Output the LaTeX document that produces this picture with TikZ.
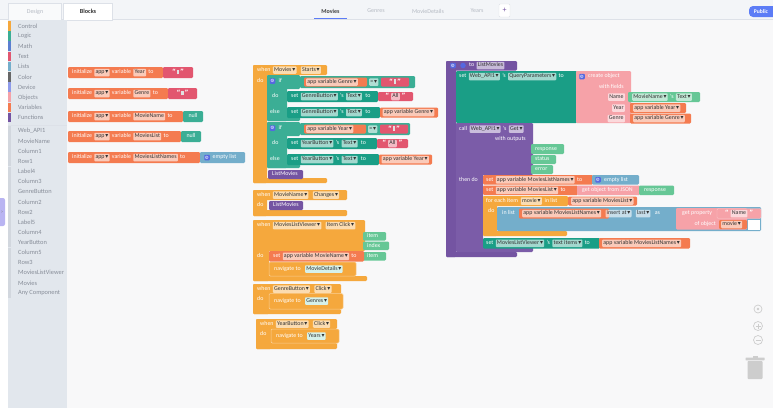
\documentclass[tikz,border=0pt]{standalone}
\usepackage{fontspec}
\setmainfont{Carlito}
\newfontfamily\symf{DejaVu Sans}
\usetikzlibrary{positioning}
\definecolor{cCtl}{HTML}{F5A83D}
\definecolor{cLog}{HTML}{3BAE95}
\definecolor{cMath}{HTML}{5B7FD0}
\definecolor{cTxt}{HTML}{E2566F}
\definecolor{cLst}{HTML}{74AECB}
\definecolor{cClr}{HTML}{666666}
\definecolor{cDev}{HTML}{8E9BEA}
\definecolor{cObj}{HTML}{F6A2A8}
\definecolor{cVar}{HTML}{F47B50}
\definecolor{cFun}{HTML}{7454A2}
\definecolor{cCall}{HTML}{7B5CA8}
\definecolor{cCmp}{HTML}{1A9E86}
\definecolor{cPar}{HTML}{66C796}
\definecolor{cNav}{HTML}{D6F1EA}
\definecolor{cGear}{HTML}{5568E0}
\definecolor{cSide}{HTML}{E2E7ED}
\definecolor{cSideTxt}{HTML}{878D98}
\definecolor{cStrip}{HTML}{D2D7DE}
\definecolor{cCanvas}{HTML}{F8F8F9}
\definecolor{cBar}{HTML}{F3F5F8}
\definecolor{cLine}{HTML}{DDE1E8}
\definecolor{cTab}{HTML}{5C7CF6}
\definecolor{cTabTxt}{HTML}{B5BAC3}
\definecolor{cCtrl}{HTML}{CDCDCD}
\definecolor{cHandle}{HTML}{B9B4F2}
\newcommand\fs{\fontsize{5.9}{6.5}\selectfont}
\newcommand\dd{\kern0.8pt{\symf ▾}}
\newcommand\qopen{{\symf\bfseries “}}
\newcommand\qclose{{\symf\bfseries ”}}
\newcommand\qq{\qopen\kern0.8pt{\color{white!88!black}\rule[-0.4pt]{2.4pt}{4.4pt}}\kern0.8pt\qclose}
\begin{document}
\begin{tikzpicture}[x=1pt,y=-1pt,
  blk/.style={rounded corners=1.2pt},
  lbl/.style={inner sep=0pt,text=white,font=\fs,anchor=west,text height=4pt,text depth=1.1pt},
  fld/.style={lbl,inner xsep=1.2pt,inner ysep=1.2pt,fill=white,fill opacity=0.6,text opacity=1,text=black!80,rounded corners=0.8pt},
  nfld/.style={fld,fill=cNav,fill opacity=1},
  gear/.style={fill=cGear,rounded corners=0.8pt,minimum size=5.5pt,inner sep=0pt,text=white,font=\symf\fontsize{4.5}{4.5}\selectfont},
  side/.style={inner sep=0pt,anchor=west,text=cSideTxt,font=\fontsize{6.4}{7}\selectfont},
  tab/.style={inner sep=0pt,font=\fontsize{6}{7}\selectfont,text=cTabTxt}]
\useasboundingbox (0,0) rectangle (773,408);
% page, top bar and side bar
\fill[white] (0,0) rectangle (773,408);
\fill[cCanvas] (67,20) rectangle (773,408);
\fill[cBar] (0,0) rectangle (773,20);
\draw[cLine] (0,19.5) -- (773,19.5);
\fill[cBar!50!white,draw=cLine,line width=0.4pt] (8,3.5) rectangle (61,20);
\fill[white,draw=cLine,line width=0.4pt] (63,3.5) rectangle (112,20);
\node[tab] (tdesign) at (35,11.5) {Design};
\node[tab,text=black!80,font=\fontsize{6.2}{7}\selectfont\bfseries] (tblocks) at (88,11.5) {Blocks};
\node[tab,text=black!75,font=\fontsize{6}{7}\selectfont\bfseries] (pmovies) at (330.5,11) {Movies};
\draw[cTab,line width=0.9pt] (314,18.5) -- (347,18.5);
\node[tab] (pgenres) at (376,11) {Genres};
\node[tab] (pdetails) at (428,11) {MovieDetails};
\node[tab] (pyears) at (477,11) {Years};
\draw[cLine,fill=white,rounded corners=1pt] (499,4) rectangle (510,17);
\node[tab,text=cFun,font=\fontsize{8}{8}\selectfont] (pplus) at (504.5,10.5) {+};
\fill[cTab,rounded corners=4pt] (749,6) rectangle (779,17);
\node[tab,text=white,font=\fontsize{5.6}{6}\selectfont\bfseries] (ppublic) at (761,11.5) {Public};
\fill[cSide] (8,20) rectangle (67,408);
\foreach \n/\c [count=\i] in {Control/cCtl,Logic/cLog,Math/cMath,Text/cTxt,Lists/cLst,Color/cClr,Device/cDev,Objects/cObj,Variables/cVar,Functions/cFun}{
  \fill[\c] (8,{21+(\i-1)*10.2}) rectangle (10.5,{30.6+(\i-1)*10.2});
  \node[side] (cat\i) at (18,{26+(\i-1)*10.2}) {\n};
}
\draw[cLine,line width=0.6pt] (8,125.5) -- (67,125.5);
\foreach \n [count=\i] in {Web\_API1,MovieName,Column1,Row1,Label4,Column3,GenreButton,Column2,Row2,Label5,Column4,YearButton,Column5,Row3,MoviesListViewer,Movies,Any Component}{
  \fill[cStrip] (8,{126+(\i-1)*10.125}) rectangle (10.5,{136+(\i-1)*10.125});
  \node[side] (cmp\i) at (18,{131+(\i-1)*10.125}) {\n};
}
\fill[cHandle,rounded corners=2pt] (-3,198) rectangle (5,226);
\node[tab,text=black!50,font=\symf\fontsize{5}{5}\selectfont] (hnd) at (2,212) {›};
% initialize blocks
\foreach \y/\nm/\e [count=\i] in {72.5/Year/163,93.5/Genre/168,116.5/MovieName/183,136.5/MoviesList/181,157.5/MoviesListNames/200}{
  \fill[cVar,blk] (68,\y-5.5) rectangle (\e,\y+5.5);
  \node[lbl] (v\i-a) at (72,\y) {initialize};
  \node[fld,right=2pt of v\i-a] (v\i-b) {app\dd};
  \node[lbl,right=2pt of v\i-b] (v\i-c) {variable};
  \node[fld,right=2pt of v\i-c] (v\i-d) {\nm};
  \node[lbl,right=2pt of v\i-d] (v\i-e) {to};
}
\fill[cTxt,blk] (163,67) rectangle (193,78);
\node[lbl,anchor=center] (v1-f) at (178,72.5) {\qq};
\fill[cTxt,blk] (168,88) rectangle (197,99);
\node[lbl,anchor=center] (v2-f) at (182.5,93.5) {\qq};
\fill[cLog,blk] (183,111) rectangle (203,122);
\node[lbl,anchor=center] (v3-f) at (193,116.5) {null};
\fill[cLog,blk] (181,131) rectangle (201,142);
\node[lbl,anchor=center] (v4-f) at (191,136.5) {null};
\fill[cLst,blk] (200,152) rectangle (245,163);
\node[gear] (v5-g) at (207,157.5) {⚙};
\node[lbl,right=2.5pt of v5-g] (v5-f) {empty list};
% when Movies Starts
\fill[cCtl,blk] (253,65) rectangle (327,75);
\fill[cCtl,blk] (253,65) rectangle (267,183);
\fill[cCtl,blk] (253,178) rectangle (327,183);
\node[lbl] (a1) at (257,70) {when};
\node[fld,right=2pt of a1] (a2) {Movies\dd};
\node[fld,right=4pt of a2] (a3) {Starts\dd};
\node[lbl] (a4) at (257,81) {do};
\foreach \d/\nm/\btn/\cx/\sx/\ex/\ox in {0/Genre/GenreButton/415/381/413/438,47/Year/YearButton/410/380/408/432}{
  \fill[cLog,blk] (267,75+\d) rectangle (300,89+\d);
  \fill[cLog,blk] (267,75+\d) rectangle (287,121+\d);
  \fill[cLog,blk] (267,117+\d) rectangle (300,121+\d);
  \node[gear] (if\nm-g) at (272.5,81+\d) {⚙};
  \node[lbl,right=3pt of if\nm-g] (if\nm-a) {if};
  \node[lbl] (if\nm-do) at (272,96.5+\d) {do};
  \node[lbl] (if\nm-el) at (270,112.5+\d) {else};
  \fill[cLog,blk] (300,76+\d) rectangle (\cx,88+\d);
  \fill[cVar,blk] (304,77.5+\d) rectangle (\sx-14,86.5+\d);
  \node[fld] (if\nm-v) at (306,82+\d) {app variable \nm\dd};
  \node[fld] (if\nm-q) at (\sx-12,82+\d) {=\dd};
  \fill[cTxt,blk] (\sx,77.5+\d) rectangle (\sx+28,86.5+\d);
  \node[lbl,anchor=center] (if\nm-s) at (\sx+14,82+\d) {\qq};
  \fill[cCmp,blk] (287,91+\d) rectangle (\sx-3,102+\d);
  \node[lbl] (st\nm-a) at (291,96.5+\d) {set};
  \node[fld,right=2pt of st\nm-a] (st\nm-b) {\btn\dd};
  \node[lbl,right=2pt of st\nm-b] (st\nm-c) {'s};
  \node[fld,right=2pt of st\nm-c] (st\nm-d) {Text\dd};
  \node[lbl,right=3pt of st\nm-d] (st\nm-e) {to};
  \fill[cTxt,blk] (\sx-3,92+\d) rectangle (\ex,101+\d);
  \node[fld,anchor=center] (al\nm-b) at ({(\sx-3+\ex)/2},96.5+\d) {All};
  \node[lbl,left=1.5pt of al\nm-b] (al\nm-a) {\qopen};
  \node[lbl,right=1.5pt of al\nm-b] (al\nm-c) {\qclose};
  \fill[cCmp,blk] (287,107+\d) rectangle (\sx-1,118+\d);
  \node[lbl] (se\nm-a) at (291,112.5+\d) {set};
  \node[fld,right=2pt of se\nm-a] (se\nm-b) {\btn\dd};
  \node[lbl,right=2pt of se\nm-b] (se\nm-c) {'s};
  \node[fld,right=2pt of se\nm-c] (se\nm-d) {Text\dd};
  \node[lbl,right=3pt of se\nm-d] (se\nm-e) {to};
  \fill[cVar,blk] (\sx-1,107.5+\d) rectangle (\ox,117.5+\d);
  \node[fld] (se\nm-f) at (\sx+1.5,112.5+\d) {app variable \nm\dd};
}
\fill[cFun,blk] (268,170) rectangle (303,179);
\node[lbl] (lm1) at (272,174.5) {ListMovies};
% when MovieName Changes
\fill[cCtl,blk] (253,190) rectangle (347,200);
\fill[cCtl,blk] (253,190) rectangle (267,216);
\fill[cCtl,blk] (253,210) rectangle (347,216);
\node[lbl] (b1) at (257,195) {when};
\node[fld,right=2pt of b1] (b2) {MovieName\dd};
\node[fld,right=4pt of b2] (b3) {Changes\dd};
\node[lbl] (b4) at (257,205.5) {do};
\fill[cFun,blk] (269,201) rectangle (303,210);
\node[lbl] (lm2) at (273,205.5) {ListMovies};
% when MoviesListViewer Item Click
\fill[cCtl,blk] (253,220) rectangle (365,251);
\fill[cCtl,blk] (253,220) rectangle (269,281);
\fill[cCtl,blk] (253,276) rectangle (367,281);
\node[lbl] (c1) at (257,225.5) {when};
\node[fld,right=2pt of c1] (c2) {MoviesListViewer\dd};
\node[fld,right=4pt of c2] (c3) {Item Click\dd};
\fill[cPar,blk] (363,232) rectangle (386,240.5);
\node[lbl] (c4) at (367,236.25) {item};
\fill[cPar,blk] (363,241.5) rectangle (389,250);
\node[lbl] (c5) at (367,245.75) {index};
\fill[cPar,blk] (363,252) rectangle (386,260.5);
\node[lbl] (c6) at (367,256.25) {item};
\node[lbl] (c7) at (257,256.5) {do};
\fill[cVar,blk] (269,251) rectangle (364,261.5);
\node[lbl] (c8) at (273,256.25) {set};
\node[fld,right=2pt of c8] (c9) {app variable MovieName\dd};
\node[lbl,right=2pt of c9] (c10) {to};
\fill[cCtl,blk,draw=white!45!cCtl,line width=0.5pt] (269,262) rectangle (356,276);
\node[lbl] (c11) at (274,269) {navigate to};
\node[nfld,right=4pt of c11] (c12) {MovieDetails\dd};
% when GenreButton Click
\fill[cCtl,blk] (253,284) rectangle (341,294);
\fill[cCtl,blk] (253,284) rectangle (269,314);
\fill[cCtl,blk] (253,309) rectangle (341,314);
\node[lbl] (d1) at (257,289) {when};
\node[fld,right=2pt of d1] (d2) {GenreButton\dd};
\node[fld,right=4pt of d2] (d3) {Click\dd};
\node[lbl] (d4) at (257,299.5) {do};
\fill[cCtl,blk,draw=white!45!cCtl,line width=0.5pt] (269,293.5) rectangle (343,309);
\node[lbl] (d5) at (274,301) {navigate to};
\node[nfld,right=4pt of d5] (d6) {Genres\dd};
% when YearButton Click
\fill[cCtl,blk] (256,319) rectangle (337,329);
\fill[cCtl,blk] (256,319) rectangle (271,349);
\fill[cCtl,blk] (256,343) rectangle (337,349);
\node[lbl] (e1) at (260,324) {when};
\node[fld,right=2pt of e1] (e2) {YearButton\dd};
\node[fld,right=4pt of e2] (e3) {Click\dd};
\node[lbl] (e4) at (260,334.5) {do};
\fill[cCtl,blk,draw=white!45!cCtl,line width=0.5pt] (271,329) rectangle (339,343);
\node[lbl] (e5) at (276,336) {navigate to};
\node[nfld,right=4pt of e5] (e6) {Years\dd};
% to ListMovies
\fill[cFun,blk] (446,61) rectangle (517,70.5);
\fill[cFun,blk] (446,61) rectangle (456,257);
\fill[cFun,blk] (446,252) rectangle (517,257);
\node[gear] (f1) at (453,65.5) {⚙};
\node[gear,circle] (f2) at (463,65.5) {};
\node[lbl,right=3pt of f2] (f3) {to};
\node[fld,right=2pt of f3] (f4) {ListMovies};
\fill[cCmp,blk] (456,71) rectangle (577,123);
\node[lbl] (q1) at (459,76.5) {set};
\node[fld,right=2pt of q1] (q2) {Web\_API1\dd};
\node[lbl,right=2pt of q2] (q3) {'s};
\node[fld,right=2pt of q3] (q4) {QueryParameters\dd};
\node[lbl,right=2pt of q4] (q5) {to};
\fill[cObj,blk] (576,71) rectangle (631,123);
\node[gear] (o1) at (582,76.5) {⚙};
\node[lbl,right=3pt of o1] (o2) {create object};
\node[lbl,anchor=east] (o3) at (624,87) {with fields};
\node[fld,anchor=east] (o4) at (625,97) {Name};
\node[fld,anchor=east] (o5) at (625,108) {Year};
\node[fld,anchor=east] (o6) at (625,118.5) {Genre};
\fill[cPar,blk] (628,92) rectangle (700,102);
\node[fld] (o7) at (632,97) {MovieName\dd};
\node[lbl,right=2pt of o7] (o8) {'s};
\node[fld,right=2pt of o8] (o9) {Text\dd};
\fill[cVar,blk] (630,103) rectangle (686,113);
\node[fld] (o10) at (633,108) {app variable Year\dd};
\fill[cVar,blk] (630,113.5) rectangle (691,123.5);
\node[fld] (o11) at (633,118.5) {app variable Genre\dd};
% call Web_API1 Get
\fill[cCall,blk] (456,123) rectangle (533,175);
\fill[cCall,blk] (456,123) rectangle (483,252);
\fill[cCall,blk] (456,247) rectangle (533,252);
\node[lbl] (g1) at (459,129) {call};
\node[fld,right=2pt of g1] (g2) {Web\_API1\dd};
\node[lbl,right=2pt of g2] (g3) {'s};
\node[fld,right=2pt of g3] (g4) {Get\dd};
\node[lbl,anchor=east] (g5) at (526,139) {with outputs};
\fill[cPar,blk] (531,144) rectangle (564,154);
\node[lbl] (g6) at (535,149) {response};
\fill[cPar,blk] (531,155) rectangle (556,164);
\node[lbl] (g7) at (535,159.5) {status};
\fill[cPar,blk] (531,165) rectangle (553,174);
\node[lbl] (g8) at (535,169.5) {error};
\node[lbl] (g9) at (459,180) {then do};
\fill[cVar,blk] (483,175) rectangle (593,184.5);
\node[lbl] (h1) at (486,179.75) {set};
\node[fld,right=2pt of h1] (h2) {app variable MoviesListNames\dd};
\node[lbl,right=2pt of h2] (h3) {to};
\fill[cLst,blk] (592,175) rectangle (639,184.5);
\node[gear] (h4) at (598,179.75) {⚙};
\node[lbl,right=3pt of h4] (h5) {empty list};
\fill[cVar,blk] (483,185.5) rectangle (578,195);
\node[lbl] (k1) at (486,190.25) {set};
\node[fld,right=2pt of k1] (k2) {app variable MoviesList\dd};
\node[lbl,right=2pt of k2] (k3) {to};
\fill[cObj,blk] (577,185.5) rectangle (640,195);
\node[lbl] (k4) at (582,190.25) {get object from JSON};
\fill[cPar,blk] (639,185.5) rectangle (674,195);
\node[lbl] (k5) at (644,190.25) {response};
% for each item
\fill[cCtl,blk] (483,196) rectangle (568,206);
\fill[cCtl,blk] (483,196) rectangle (497,236);
\fill[cCtl,blk] (483,231) rectangle (567,236);
\node[lbl] (m1) at (486,201) {for each item};
\node[fld,right=2.5pt of m1] (m2) {movie\dd};
\node[lbl,right=2.5pt of m2] (m3) {in list};
\fill[cVar,blk] (568,196.5) rectangle (637,205.5);
\node[fld] (m4) at (571,201) {app variable MoviesList\dd};
\node[lbl] (m5) at (488,211.5) {do};
\fill[cLst,blk] (497,207) rectangle (761,231);
\node[lbl] (n1) at (502,213.5) {in list};
\fill[cVar,blk] (519,208.5) rectangle (609,218.5);
\node[fld] (n2) at (522,213.5) {app variable MoviesListNames\dd};
\node[fld,right=4pt of n2] (n3) {insert at\dd};
\node[fld,right=4pt of n3] (n4) {last\dd};
\node[lbl,right=4pt of n4] (n5) {as};
\fill[cObj,blk] (676,208) rectangle (747,229.5);
\node[lbl] (n6) at (682,213.5) {get property};
\fill[cObj,draw=white!40!cObj,line width=0.4pt,blk] (717,208.5) rectangle (761,218.5);
\node[fld,anchor=center] (n7) at (739,213.5) {Name};
\node[lbl,left=1.5pt of n7] (n8) {\qopen};
\node[lbl,right=1.5pt of n7] (n9) {\qclose};
\node[lbl,anchor=east] (n10) at (716,224.5) {of object};
\fill[cVar,blk] (719,220) rectangle (747,229);
\node[fld] (n11) at (721,224.5) {movie\dd};
\fill[white] (747.5,219.5) rectangle (760,229.5);
% set MoviesListViewer text items
\fill[cCmp,blk] (483,238) rectangle (600,248.5);
\node[lbl] (r1) at (486,243.25) {set};
\node[fld,right=2pt of r1] (r2) {MoviesListViewer\dd};
\node[lbl,right=2pt of r2] (r3) {'s};
\node[fld,right=2pt of r3] (r4) {text items\dd};
\node[lbl,right=2pt of r4] (r5) {to};
\fill[cVar,blk] (599,238) rectangle (690,248.5);
\node[fld] (r6) at (602,243.25) {app variable MoviesListNames\dd};
% zoom controls and trash
\draw[cCtrl,line width=0.7pt] (758,309) circle (4);
\fill[cCtrl] (758,309) circle (1.4);
\draw[cCtrl,line width=0.7pt] (758,326) circle (4.5);
\draw[cCtrl,line width=0.7pt] (755.5,326) -- (760.5,326) (758,323.5) -- (758,328.5);
\draw[cCtrl,line width=0.7pt] (758,340) circle (4.5);
\draw[cCtrl,line width=0.7pt] (755.5,340) -- (760.5,340);
\fill[cCtrl,rounded corners=0.8pt] (747.5,361) rectangle (762.5,379);
\fill[cCtrl,rounded corners=0.5pt] (745.5,357.5) rectangle (764.5,360.3);
\fill[cCtrl] (752.5,356) rectangle (757.5,358);
\end{tikzpicture}
\end{document}
